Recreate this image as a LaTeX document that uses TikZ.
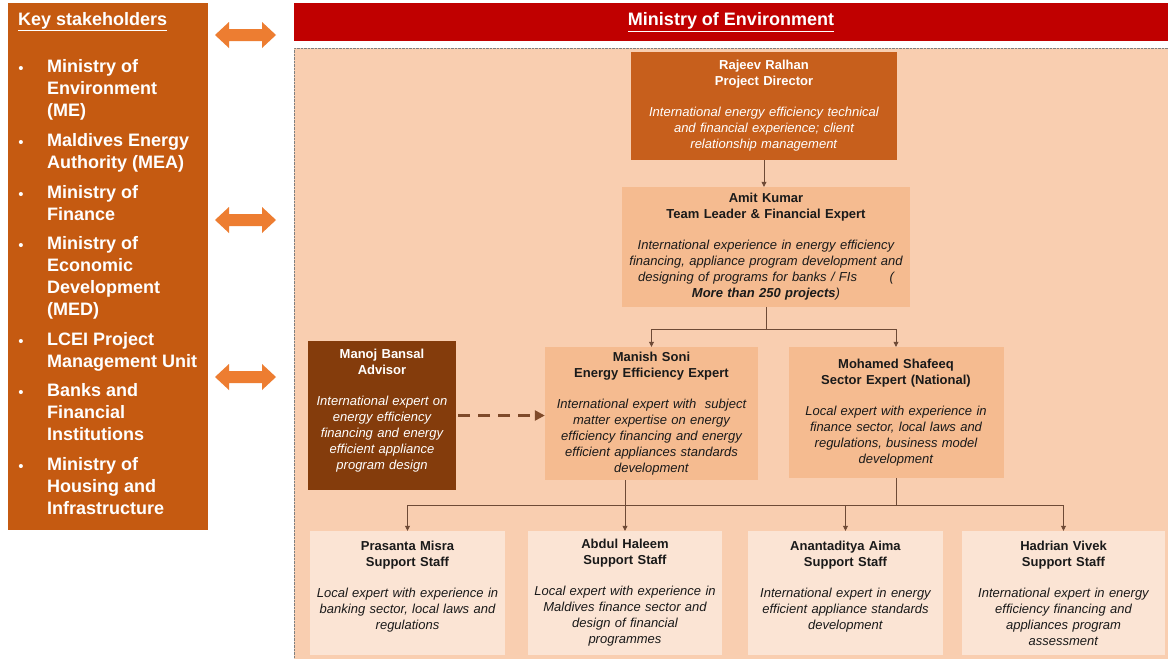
\documentclass[tikz,border=0pt]{standalone}
\usepackage{fontspec}
\setmainfont{Liberation Sans}
\usepackage{tikz}
\usetikzlibrary{arrows.meta}

\definecolor{keyorange}{HTML}{C55A11}
\definecolor{directororange}{HTML}{C75F1C}
\definecolor{ministryred}{HTML}{C00000}
\definecolor{panelpeach}{HTML}{F9CEB0}
\definecolor{midpeach}{HTML}{F5BB90}
\definecolor{lowpeach}{HTML}{FBE4D4}
\definecolor{advisorbrown}{HTML}{843C0C}
\definecolor{arroworange}{HTML}{ED7D31}
\definecolor{linkbrown}{HTML}{6E4A36}
\definecolor{dashbrown}{HTML}{7F4A2A}
\definecolor{inkdark}{HTML}{1A1A1A}

\begin{document}
\begin{tikzpicture}[x=1pt,y=-1pt,
    box/.style={align=center, inner sep=0pt, font=\fontsize{13}{16}\selectfont},
    darkbox/.style={box, fill=directororange, text=white},
    advisorbox/.style={box, fill=advisorbrown, text=white},
    midbox/.style={box, fill=midpeach, text=inkdark},
    lowbox/.style={box, fill=lowpeach, text=inkdark},
    keyitem/.style={align=left, inner sep=0pt, text=white, font=\bfseries\fontsize{18}{22}\selectfont},
    keybullet/.style={inner sep=0pt, text=white, font=\fontsize{15}{15}\selectfont},
    link/.style={draw=linkbrown, line width=0.7pt, -{Triangle[length=5pt,width=5pt]}},
    linkline/.style={draw=linkbrown, line width=0.7pt},
    advice/.style={draw=dashbrown, line width=2.4pt, dash pattern=on 12pt off 8pt, -{Triangle[length=10pt,width=10pt]}}
]
    \useasboundingbox (0,0) rectangle (1168,659);
    \fill[white] (0,0) rectangle (1168,659);

    % Key stakeholders panel
    \node[fill=keyorange, minimum width=200pt, minimum height=527pt, anchor=north west, inner sep=0pt] (keypanel) at (8,3) {};
    \node[anchor=north west, inner sep=0pt, text=white, font=\bfseries\fontsize{18}{22}\selectfont] (keytitle) at (18,12) {\underline{Key stakeholders}};
    \foreach \y/\txt [count=\i] in {59/{Ministry of\\Environment\\(ME)}, 133/{Maldives Energy\\Authority (MEA)}, 185/{Ministry of\\Finance}, 236/{Ministry of\\Economic\\Development\\(MED)}, 332/{LCEI Project\\Management Unit}, 383/{Banks and\\Financial\\Institutions}, 457/{Ministry of\\Housing and\\Infrastructure}}
    {
        \node[keyitem, anchor=north west] (item\i) at (47,\y) {\txt};
        \node[keybullet] (dot\i) at (21,\y+10.5) {\textbullet};
    }

    % Double arrows
    \foreach \y in {35,220,377}
        \fill[arroworange] (215,\y) -- (229,\y-13) -- (229,\y-6) -- (262,\y-6) -- (262,\y-13) -- (276,\y) -- (262,\y+13) -- (262,\y+6) -- (229,\y+6) -- (229,\y+13) -- cycle;

    % Ministry bar and team panel
    \node[fill=ministryred, minimum width=874pt, minimum height=38pt, inner sep=0pt, text=white, font=\bfseries\fontsize{18}{22}\selectfont] (ministry) at (731,22) {\underline{Ministry of Environment}};
    \node[fill=panelpeach, draw=gray, densely dotted, minimum width=874pt, minimum height=611pt, anchor=north west, inner sep=0pt] (panel) at (294,48) {};

    % Team members
    \node[darkbox, text width=266pt, minimum height=108pt] (rajeev) at (764,106) {\textbf{Rajeev Ralhan}\\ \textbf{Project Director}\\[15pt] \textit{International energy efficiency technical\\ and financial experience; client\\ relationship management}};
    \node[midbox, text width=288pt, minimum height=120pt] (amit) at (766,247) {\textbf{Amit Kumar}\\ \textbf{Team Leader \& Financial Expert}\\[15pt] \textit{International experience in energy efficiency\\ financing, appliance program development and\\ designing of programs for banks / FIs\hspace{2.5em}(\\ \textbf{More than 250 projects})}};
    \node[advisorbox, text width=148pt, minimum height=149pt] (manoj) at (382,415.5) {\textbf{Manoj Bansal}\\ \textbf{Advisor}\\[15pt] \textit{International expert on\\ energy efficiency\\ financing and energy\\ efficient appliance\\ program design}\\[-4pt]\mbox{}};
    \node[midbox, text width=213pt, minimum height=133pt] (manish) at (651.5,413.5) {\textbf{Manish Soni}\\ \textbf{Energy Efficiency Expert}\\[15pt] \textit{International expert with\ \ subject\\ matter expertise on energy\\ efficiency financing and energy\\ efficient appliances standards\\ development}};
    \node[midbox, text width=215pt, minimum height=131pt] (shafeeq) at (896,412.5) {\textbf{Mohamed Shafeeq}\\ \textbf{Sector Expert (National)}\\[15pt] \textit{Local expert with experience in\\ finance sector, local laws and\\ regulations, business model\\ development}};

    % Support staff
    \node[lowbox, text width=195pt, minimum height=124pt] (prasanta) at (407.5,593) {\textbf{Prasanta Misra}\\ \textbf{Support Staff}\\[15pt] \textit{Local expert with experience in\\ banking sector, local laws and\\ regulations}\\\mbox{}};
    \node[lowbox, text width=194pt, minimum height=124pt] (abdul) at (625,593) {\textbf{Abdul Haleem}\\ \textbf{Support Staff}\\[15pt] \textit{Local expert with experience in\\ Maldives finance sector and\\ design of financial\\ programmes}};
    \node[lowbox, text width=195pt, minimum height=124pt] (ananta) at (845.5,593) {\textbf{Anantaditya Aima}\\ \textbf{Support Staff}\\[15pt] \textit{International expert in energy\\ efficient appliance standards\\ development}\\\mbox{}};
    \node[lowbox, text width=203pt, minimum height=124pt] (hadrian) at (1063.5,593) {\textbf{Hadrian Vivek}\\ \textbf{Support Staff}\\[15pt] \textit{International expert in energy\\ efficiency financing and\\ appliances program\\ assessment}};

    % Reporting lines
    \coordinate (bus) at (0,505);
    \draw[link] (rajeev.south) -- (rajeev.south |- amit.north);
    \draw[link] (amit.south) -- ++(0,22) -| (manish.north);
    \draw[link] (amit.south) -- ++(0,22) -| (shafeeq.north);
    \draw[advice] (manoj.east) ++(2,0) -- (manoj.east -| manish.west);
    \draw[linkline] (prasanta.north |- bus) -- (hadrian.north |- bus);
    \draw[link] (manish.south -| abdul.north) -- (abdul.north);
    \draw[linkline] (shafeeq.south) -- (shafeeq.south |- bus);
    \draw[link] (prasanta.north |- bus) -- (prasanta.north);
    \draw[link] (ananta.north |- bus) -- (ananta.north);
    \draw[link] (hadrian.north |- bus) -- (hadrian.north);
\end{tikzpicture}
\end{document}
